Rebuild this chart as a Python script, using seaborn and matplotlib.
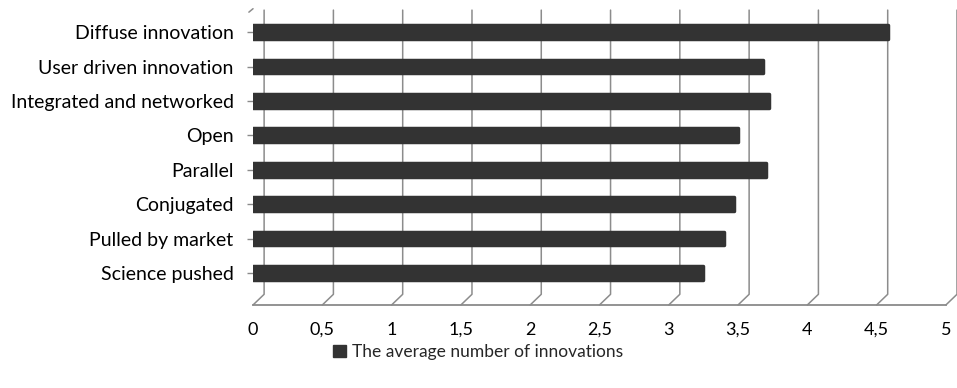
import matplotlib
matplotlib.use("Agg")
import matplotlib.pyplot as plt
import seaborn as sns
import pandas as pd

categories = [
    "Diffuse innovation",
    "User driven innovation",
    "Integrated and networked",
    "Open",
    "Parallel",
    "Conjugated",
    "Pulled by market",
    "Science pushed",
]
avg_innovations = [4.58, 3.68, 3.72, 3.50, 3.70, 3.47, 3.40, 3.25]
x_ticks = [0, 0.5, 1, 1.5, 2, 2.5, 3, 3.5, 4, 4.5, 5]
x_tick_labels = ["0", "0,5", "1", "1,5", "2", "2,5", "3", "3,5", "4", "4,5", "5"]
series_name = "The average number of innovations"

df = pd.DataFrame({"category": categories, "value": avg_innovations})

sns.set_theme(style="white")
plt.rcParams["font.family"] = ["Lato", "DejaVu Sans"]

fig = plt.figure(figsize=(9.57, 3.88), dpi=100)
ax = fig.add_axes([0.2644, 0.214, 0.724, 0.76])

bar_color = "#333333"
sns.barplot(data=df, x="value", y="category", orient="h", color=bar_color,
            width=0.40, saturation=1, ax=ax, zorder=3)
for p in ax.patches:
    p.set_edgecolor(bar_color)
    p.set_linewidth(2.5)
    p.set_joinstyle("round")

y_top, y_back, y_front = -0.64, 7.62, 7.93
ax.set_ylim(y_front, y_top)
ax.set_xlim(0, 5)

# back-wall gridlines with a slanted foot to the front axis
depth = 0.08
grid_col = "#8c8c8c"
for v in x_ticks:
    ax.plot([v, v + depth, v + depth], [y_front, y_back, y_top],
            color=grid_col, lw=1.1, zorder=1, clip_on=False)
ax.plot([-0.03, 0.0], [y_top + 0.06, y_top - 0.04], color=grid_col, lw=1.1,
        clip_on=False, zorder=1)

for s in ["top", "right", "left"]:
    ax.spines[s].set_visible(False)
ax.spines["bottom"].set_color("#8a8a8a")
ax.spines["bottom"].set_linewidth(1.3)

ax.set_xticks(x_ticks)
ax.set_xticklabels(x_tick_labels)
ax.tick_params(axis="x", length=5, width=1, color="#8a8a8a", direction="out",
               labelsize=13, pad=7, labelcolor="black")
ax.tick_params(axis="y", length=4, width=1, color="#8a8a8a", labelsize=14,
               pad=10, labelcolor="black", left=True)
ax.set_xlabel("")
ax.set_ylabel("")

handle = plt.Rectangle((0, 0), 1, 1, color=bar_color)
fig.legend([handle], [series_name], loc="center", bbox_to_anchor=(0.5, 0.093),
           frameon=False, fontsize=12.5, handlelength=0.7, handleheight=0.7,
           handletextpad=0.4)

fig.savefig("out.png", dpi=100, facecolor="white")
